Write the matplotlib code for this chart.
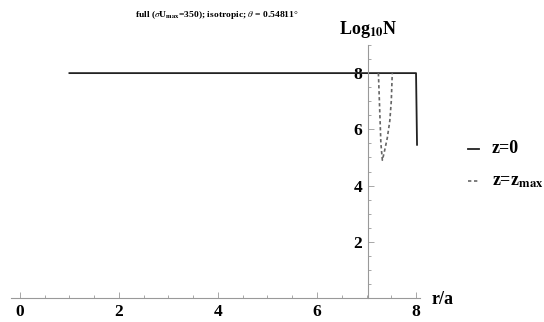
import numpy as np
import matplotlib.pyplot as plt
from matplotlib.ticker import MultipleLocator

plt.rcParams['font.family'] = ['Liberation Serif', 'DejaVu Serif']
plt.rcParams['mathtext.fontset'] = 'stix'

# z = 0 curve
r_z0 = [1.0, 8.0, 8.02]
logN_z0 = [8.0, 8.0, 5.45]

# z = z_max curve
r_zmax = [7.24, 7.25, 7.27, 7.29, 7.32, 7.36, 7.42, 7.47, 7.50, 7.52]
logN_zmax = [8.0, 7.5, 6.5, 5.5, 4.9, 5.2, 5.7, 6.3, 7.0, 8.0]

x_ticks = [0, 2, 4, 6, 8]
y_ticks = [2, 4, 6, 8]

fig = plt.figure(figsize=(5.44, 3.22), dpi=100)
ax = fig.add_axes([11 / 544, 24 / 322, 409 / 544, 253 / 322])

ax.plot(r_z0, logN_z0, color='#222222', lw=1.3)
ax.plot(r_zmax, logN_zmax, color='#666666', lw=1.2, dashes=(2, 1.6))

ax.set_xlim(-0.18, 8.08)
ax.set_ylim(0, 9.0)

for s in ['top', 'right']:
    ax.spines[s].set_visible(False)
ax.spines['left'].set_position(('data', 7.03))
ax.spines['bottom'].set_position(('data', 0))
for s in ['left', 'bottom']:
    ax.spines[s].set_color('#999999')
    ax.spines[s].set_linewidth(0.8)

ax.set_xticks(x_ticks)
ax.set_yticks(y_ticks)
ax.xaxis.set_minor_locator(MultipleLocator(0.5))
ax.yaxis.set_minor_locator(MultipleLocator(0.5))
ax.tick_params(which='both', direction='in', color='#999999', width=0.6)
ax.tick_params(which='major', length=4, labelsize=12.5)
ax.tick_params(axis='x', which='major', pad=4.5)
ax.tick_params(axis='y', which='major', pad=4)
ax.tick_params(which='minor', length=2.5)
for lab in ax.get_xticklabels() + ax.get_yticklabels():
    lab.set_fontweight('bold')

fig.text(368 / 544, 1 - 30 / 322, r'Log$_{\mathbf{10}}$N', ha='center', va='center',
         fontsize=13, fontweight='bold')
fig.text(432 / 544, 1 - 300 / 322, 'r/a', ha='left', va='center', fontsize=13, fontweight='bold')

fig.text(217 / 544, 1 - 15 / 322,
         r'full ($\sigma$U$_{\mathbf{max}}$=350); isotropic; $\theta$ = 0.54811°',
         ha='center', va='center', fontsize=6.8, fontweight='bold')

# legend drawn by hand, outside the axes
fig.add_artist(plt.Line2D([468 / 544, 479 / 544], [1 - 149 / 322] * 2, color='#222222', lw=1.3))
fig.add_artist(plt.Line2D([468 / 544, 479 / 544], [1 - 181 / 322] * 2, color='#666666', lw=1.2,
                          dashes=(2, 1.6)))
fig.text(492 / 544, 1 - 149 / 322, 'z=0', ha='left', va='center', fontsize=13, fontweight='bold')
fig.text(492 / 544, 1 - 181 / 322, r'z=z$_{\mathbf{max}}$', ha='left', va='center', fontsize=13,
         fontweight='bold')

fig.savefig('out.png', dpi=100)
